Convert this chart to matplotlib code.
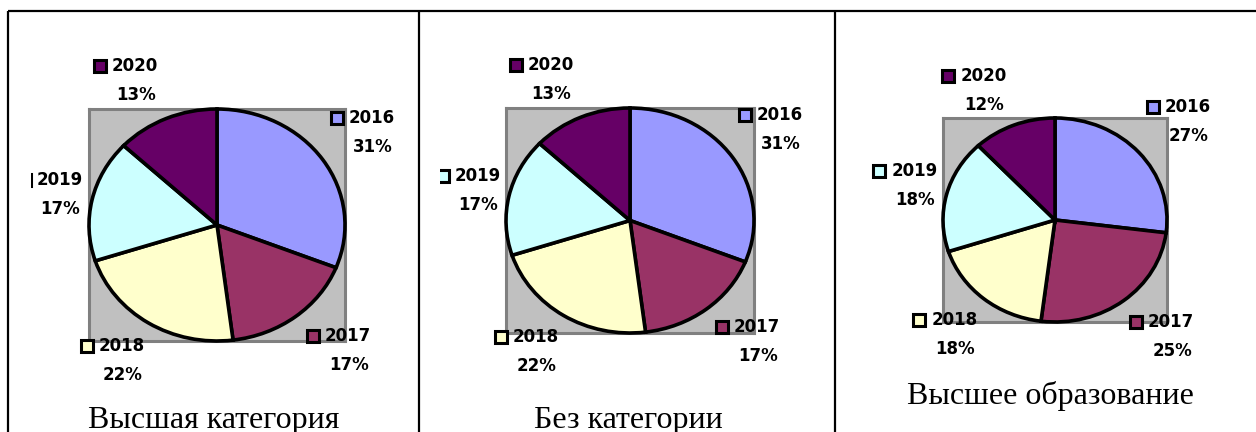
import matplotlib
matplotlib.use('Agg')
import matplotlib.pyplot as plt

W, H = 1256, 432

years = ['2016', '2017', '2018', '2019', '2020']
colors = ['#9999FF', '#993366', '#FFFFCC', '#CCFFFF', '#660066']
share_vysshaya = [31, 17, 22, 17, 13]
share_bez = [31, 17, 22, 17, 13]
share_vysshee = [27, 25, 18, 18, 12]
titles = ['Высшая категория', 'Без категории', 'Высшее образование']
shares = [share_vysshaya, share_bez, share_vysshee]

# layout in pixels (x0, y0, x1, y1), top-left origin
pie_boxes = [(89, 109, 345, 341), (506, 108, 754, 333), (943, 118, 1167, 322)]
label_xy = [
    [(371.5, 118), (348, 336), (121.5, 346), (59.5, 180), (135, 66)],
    [(780, 115), (757, 327), (535.5, 337), (477.5, 176), (550.5, 65)],
    [(1187.5, 107), (1171, 322), (954.5, 320), (914.5, 171), (983.5, 76)],
]
clip_left = [30.5, 440, 836]
panel_right = [419, 835, 1256]
title_xy = [(214, 428), (628.5, 428), (1050, 404)]


def px_axes(fig, x0, y0, x1, y1):
    return fig.add_axes([x0 / W, 1 - y1 / H, (x1 - x0) / W, (y1 - y0) / H])


fig = plt.figure(figsize=(W / 100, H / 100), dpi=100)

# table borders
bg = px_axes(fig, 0, 0, W, H)
bg.set_xlim(0, W)
bg.set_ylim(H, 0)
bg.axis('off')
bg.plot([8, W], [11, 11], color='black', lw=1.6, solid_capstyle='butt')
for x in [8, 419, 835]:
    bg.plot([x, x], [11, H], color='black', lw=1.6, solid_capstyle='butt')
for (tx, ty), t in zip(title_xy, titles):
    bg.text(tx, ty, t, ha='center', va='baseline', fontsize=23,
            family='Liberation Serif', color='black')

for i, vals in enumerate(shares):
    x0, y0, x1, y1 = pie_boxes[i]
    ax = px_axes(fig, x0, y0, x1, y1)
    wedges, _ = ax.pie(vals, colors=colors, startangle=90, counterclock=False,
                       radius=1, wedgeprops=dict(edgecolor='black', linewidth=2.6))
    for w in wedges:
        w.set_clip_on(False)
        w.set_zorder(3)
    ax.set_aspect('auto')
    ax.set_xlim(-1, 1)
    ax.set_ylim(-1, 1)
    ax.set_frame_on(True)
    ax.set_facecolor('#C0C0C0')
    for s in ax.spines.values():
        s.set_color('#808080')
        s.set_linewidth(2.2)
    ax.set_xticks([])
    ax.set_yticks([])

    # data labels with legend keys
    lab = px_axes(fig, clip_left[i], 0, panel_right[i], H)
    lab.set_xlim(clip_left[i], panel_right[i])
    lab.set_ylim(H, 0)
    lab.axis('off')
    for (cx, cy), yr, v, c in zip(label_xy[i], years, vals, colors):
        lab.plot(cx - 35, cy, marker='s', ms=8.8, mfc=c, mec='black', mew=2.2,
                 clip_on=True)
        lab.text(cx, cy, yr, ha='center', va='center', fontsize=12,
                 fontweight='bold', family='DejaVu Sans')
        lab.text(cx + 1, cy + 29, f'{v}%', ha='center', va='center',
                 fontsize=12, fontweight='bold', family='DejaVu Sans')

fig.savefig('out.png', dpi=100)
